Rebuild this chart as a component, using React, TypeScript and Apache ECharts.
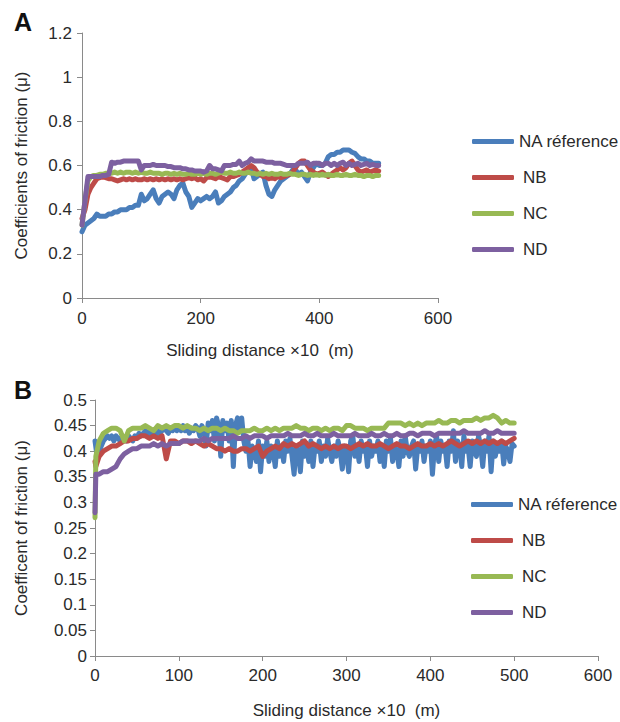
import React, { useEffect, useRef } from "react";
import * as echarts from "echarts";

// ---------- Data ----------
const seriesNames = ["NA réference", "NB", "NC", "ND"];
const seriesColors = ["#4a7ebb", "#be4b48", "#98b954", "#7d60a0"];

// Panel A: sliding distance (x10 m), every 5 units from 0 to 500
const distanceA = Array.from({ length: 101 }, (_, i) => i * 5);

const naA = [
  0.30, 0.33, 0.34, 0.35, 0.36, 0.38, 0.37, 0.37, 0.37, 0.38,
  0.38, 0.39, 0.39, 0.40, 0.40, 0.40, 0.41, 0.41, 0.42, 0.42,
  0.47, 0.44, 0.45, 0.47, 0.49, 0.45, 0.43, 0.46, 0.47, 0.48,
  0.47, 0.45, 0.49, 0.51, 0.52, 0.48, 0.46, 0.41, 0.43, 0.45,
  0.44, 0.45, 0.46, 0.45, 0.46, 0.48, 0.43, 0.44, 0.46, 0.47,
  0.48, 0.50, 0.51, 0.53, 0.54, 0.56, 0.58, 0.59, 0.54, 0.55,
  0.56, 0.57, 0.51, 0.47, 0.46, 0.49, 0.51, 0.53, 0.54, 0.55,
  0.56, 0.58, 0.58, 0.56, 0.57, 0.55, 0.53, 0.57, 0.59, 0.61,
  0.60, 0.60, 0.61, 0.64, 0.65, 0.65, 0.66, 0.66, 0.67, 0.67,
  0.67, 0.66, 0.655, 0.64, 0.63, 0.63, 0.62, 0.62, 0.61, 0.61,
  0.61,
];
const nbA = [
  0.36, 0.40, 0.47, 0.50, 0.52, 0.54, 0.545, 0.55, 0.545, 0.54,
  0.54, 0.535, 0.53, 0.535, 0.54, 0.535, 0.54, 0.535, 0.54, 0.535,
  0.535, 0.54, 0.535, 0.54, 0.535, 0.54, 0.535, 0.54, 0.535, 0.54,
  0.535, 0.54, 0.535, 0.54, 0.535, 0.54, 0.545, 0.54, 0.545, 0.535,
  0.54, 0.53, 0.545, 0.55, 0.545, 0.54, 0.55, 0.545, 0.54, 0.535,
  0.55, 0.55, 0.555, 0.56, 0.57, 0.58, 0.59, 0.60, 0.59, 0.57,
  0.56, 0.55, 0.55, 0.54, 0.545, 0.54, 0.55, 0.545, 0.55, 0.555,
  0.56, 0.57, 0.59, 0.61, 0.62, 0.62, 0.60, 0.58, 0.57, 0.56,
  0.565, 0.57, 0.56, 0.55, 0.56, 0.57, 0.58, 0.59, 0.58, 0.59,
  0.61, 0.62, 0.60, 0.58, 0.57, 0.575, 0.58, 0.57, 0.575, 0.58,
  0.575,
];
const ncA = [
  0.33, 0.44, 0.53, 0.55, 0.555, 0.555, 0.56, 0.56, 0.565, 0.565,
  0.565, 0.57, 0.565, 0.57, 0.565, 0.57, 0.57, 0.565, 0.57, 0.565,
  0.57, 0.565, 0.565, 0.57, 0.565, 0.565, 0.565, 0.56, 0.565, 0.565,
  0.56, 0.565, 0.56, 0.565, 0.56, 0.56, 0.565, 0.56, 0.56, 0.565,
  0.56, 0.565, 0.56, 0.565, 0.565, 0.56, 0.565, 0.57, 0.565, 0.565,
  0.57, 0.565, 0.565, 0.57, 0.565, 0.565, 0.57, 0.565, 0.565, 0.56,
  0.565, 0.56, 0.565, 0.56, 0.565, 0.56, 0.56, 0.565, 0.56, 0.56,
  0.565, 0.56, 0.56, 0.555, 0.56, 0.56, 0.555, 0.56, 0.555, 0.56,
  0.555, 0.56, 0.555, 0.56, 0.555, 0.555, 0.56, 0.555, 0.555, 0.56,
  0.555, 0.555, 0.56, 0.555, 0.555, 0.55, 0.555, 0.555, 0.55, 0.555,
  0.555,
];
const ndA = [
  0.33, 0.44, 0.55, 0.55, 0.55, 0.55, 0.55, 0.555, 0.555, 0.56,
  0.615, 0.61, 0.615, 0.615, 0.62, 0.62, 0.62, 0.62, 0.62, 0.62,
  0.58, 0.60, 0.60, 0.60, 0.605, 0.60, 0.60, 0.60, 0.60, 0.595,
  0.595, 0.59, 0.59, 0.59, 0.585, 0.585, 0.58, 0.58, 0.575, 0.575,
  0.575, 0.57, 0.575, 0.60, 0.585, 0.585, 0.58, 0.575, 0.60, 0.60,
  0.60, 0.605, 0.605, 0.62, 0.60, 0.61, 0.615, 0.63, 0.62, 0.62,
  0.62, 0.62, 0.615, 0.615, 0.615, 0.61, 0.61, 0.61, 0.605, 0.60,
  0.60, 0.60, 0.60, 0.61, 0.61, 0.61, 0.615, 0.60, 0.61, 0.61,
  0.61, 0.60, 0.61, 0.61, 0.60, 0.61, 0.60, 0.61, 0.615, 0.60,
  0.61, 0.60, 0.605, 0.61, 0.60, 0.605, 0.61, 0.60, 0.605, 0.60,
  0.60,
];

// Panel B: sliding distance (x10 m): 0, 1, then every 5 units to 500
const distanceB = [0, 1, ...Array.from({ length: 100 }, (_, i) => (i + 1) * 5)];
// NA réference in panel B is sampled more finely (every 2.5 units) because it is noisy
const distanceNaB = Array.from({ length: 201 }, (_, i) => i * 2.5);

const naB = [
  0.42, 0.39, 0.40, 0.41, 0.42, 0.425, 0.43, 0.425, 0.43, 0.42,
  0.43, 0.425, 0.42, 0.43, 0.425, 0.42, 0.43, 0.425, 0.42, 0.43,
  0.425, 0.435, 0.43, 0.435, 0.44, 0.43, 0.44, 0.435, 0.44, 0.43,
  0.44, 0.435, 0.44, 0.445, 0.44, 0.435, 0.445, 0.44, 0.445, 0.44,
  0.445, 0.44, 0.45, 0.44, 0.445, 0.435, 0.445, 0.44, 0.45, 0.445,
  0.43, 0.45, 0.44, 0.41, 0.455, 0.44, 0.46, 0.42, 0.465, 0.45,
  0.39, 0.46, 0.44, 0.455, 0.42, 0.46, 0.37, 0.45, 0.465, 0.44,
  0.465, 0.42, 0.40, 0.42, 0.37, 0.41, 0.40, 0.38, 0.42, 0.36,
  0.41, 0.39, 0.42, 0.38, 0.41, 0.40, 0.37, 0.42, 0.39, 0.41,
  0.38, 0.42, 0.40, 0.425, 0.39, 0.355, 0.41, 0.40, 0.36, 0.42,
  0.39, 0.41, 0.38, 0.42, 0.37, 0.41, 0.40, 0.42, 0.38, 0.41,
  0.39, 0.425, 0.40, 0.38, 0.41, 0.39, 0.42, 0.40, 0.365, 0.41,
  0.40, 0.36, 0.42, 0.43, 0.39, 0.41, 0.38, 0.42, 0.40, 0.41,
  0.37, 0.42, 0.39, 0.41, 0.40, 0.42, 0.38, 0.41, 0.37, 0.42,
  0.40, 0.425, 0.38, 0.41, 0.40, 0.37, 0.42, 0.39, 0.43, 0.40,
  0.39, 0.41, 0.42, 0.365, 0.41, 0.40, 0.42, 0.38, 0.41, 0.40,
  0.42, 0.355, 0.41, 0.43, 0.38, 0.42, 0.40, 0.41, 0.37, 0.42,
  0.40, 0.44, 0.38, 0.42, 0.41, 0.37, 0.43, 0.40, 0.41, 0.37,
  0.42, 0.40, 0.39, 0.43, 0.41, 0.37, 0.42, 0.40, 0.43, 0.36,
  0.42, 0.39, 0.41, 0.40, 0.42, 0.375, 0.41, 0.40, 0.38, 0.415,
  0.41,
];
const nbB = [
  0.38, 0.37,
  0.39, 0.40, 0.405, 0.41, 0.41, 0.415, 0.42, 0.42, 0.425, 0.425,
  0.43, 0.43, 0.425, 0.43, 0.425, 0.43, 0.385, 0.42, 0.42, 0.415,
  0.42, 0.42, 0.415, 0.42, 0.415, 0.41, 0.415, 0.41, 0.405, 0.405,
  0.40, 0.405, 0.40, 0.40, 0.405, 0.405, 0.40, 0.405, 0.41, 0.39,
  0.40, 0.405, 0.41, 0.405, 0.415, 0.41, 0.415, 0.41, 0.415, 0.42,
  0.41, 0.415, 0.41, 0.405, 0.41, 0.405, 0.41, 0.405, 0.41, 0.41,
  0.405, 0.41, 0.415, 0.41, 0.415, 0.41, 0.41, 0.415, 0.41, 0.405,
  0.41, 0.415, 0.41, 0.41, 0.405, 0.41, 0.415, 0.41, 0.41, 0.415,
  0.41, 0.415, 0.41, 0.415, 0.42, 0.415, 0.41, 0.415, 0.42, 0.415,
  0.42, 0.415, 0.42, 0.415, 0.42, 0.415, 0.42, 0.415, 0.42, 0.425,
];
const ncB = [
  0.27, 0.39,
  0.42, 0.435, 0.44, 0.445, 0.445, 0.44, 0.42, 0.44, 0.445, 0.445,
  0.445, 0.45, 0.445, 0.44, 0.45, 0.445, 0.45, 0.445, 0.45, 0.45,
  0.445, 0.45, 0.445, 0.445, 0.44, 0.445, 0.44, 0.445, 0.445, 0.44,
  0.445, 0.44, 0.44, 0.435, 0.44, 0.44, 0.44, 0.445, 0.44, 0.44,
  0.445, 0.44, 0.445, 0.44, 0.445, 0.445, 0.445, 0.45, 0.445, 0.445,
  0.44, 0.445, 0.445, 0.44, 0.445, 0.44, 0.445, 0.445, 0.44, 0.45,
  0.45, 0.445, 0.445, 0.445, 0.44, 0.445, 0.445, 0.445, 0.445, 0.455,
  0.455, 0.455, 0.455, 0.45, 0.455, 0.45, 0.455, 0.45, 0.455, 0.455,
  0.455, 0.46, 0.455, 0.455, 0.46, 0.46, 0.455, 0.46, 0.46, 0.46,
  0.465, 0.46, 0.465, 0.465, 0.47, 0.465, 0.455, 0.46, 0.455, 0.455,
];
const ndB = [
  0.28, 0.355,
  0.355, 0.36, 0.36, 0.365, 0.37, 0.385, 0.395, 0.40, 0.405, 0.405,
  0.41, 0.41, 0.41, 0.415, 0.41, 0.415, 0.41, 0.415, 0.415, 0.415,
  0.42, 0.42, 0.42, 0.42, 0.42, 0.425, 0.42, 0.425, 0.425, 0.425,
  0.425, 0.425, 0.43, 0.425, 0.425, 0.43, 0.425, 0.43, 0.43, 0.43,
  0.425, 0.43, 0.43, 0.43, 0.43, 0.435, 0.43, 0.43, 0.43, 0.435,
  0.43, 0.43, 0.435, 0.43, 0.43, 0.43, 0.435, 0.43, 0.43, 0.43,
  0.43, 0.435, 0.43, 0.43, 0.43, 0.435, 0.43, 0.43, 0.435, 0.43,
  0.43, 0.435, 0.43, 0.43, 0.435, 0.435, 0.43, 0.435, 0.435, 0.435,
  0.43, 0.435, 0.435, 0.435, 0.435, 0.435, 0.435, 0.44, 0.435, 0.435,
  0.435, 0.435, 0.44, 0.435, 0.435, 0.44, 0.435, 0.435, 0.435, 0.435,
];

const valuesA = [naA, nbA, ncA, ndA];
const xListsA = [distanceA, distanceA, distanceA, distanceA];
const valuesB = [naB, nbB, ncB, ndB];
const xListsB = [distanceNaB, distanceB, distanceB, distanceB];

const xTicksA = { min: 0, max: 600, interval: 200 };
const yTicksA = { min: 0, max: 1.2, interval: 0.2 };
const xTicksB = { min: 0, max: 600, interval: 100 };
const yTicksB = { min: 0, max: 0.5, interval: 0.05 };

const FONT = "Liberation Sans";
const FS = 17;

function zip(xs: number[], ys: number[]) {
  return xs.map((x, i) => [x, ys[i]]);
}

export default function App() {
  const ref = useRef<HTMLDivElement>(null);
  useEffect(() => {
    document.body.style.margin = "0";
    const chart = echarts.init(ref.current!, undefined, { renderer: "svg" });
    const axisLine = { show: true, lineStyle: { color: "#8a8a8a", width: 1 } };
    const axisTick = { show: true, length: 5, lineStyle: { color: "#8a8a8a" } };
    const labelStyle = { color: "#2a2a2a", fontSize: FS, fontFamily: FONT };
    const nameStyle = { color: "#2a2a2a", fontSize: FS, fontFamily: FONT };

    const makeX = (idx: number, ticks: any, gap: number, margin: number) => ({
      type: "value",
      gridIndex: idx,
      ...ticks,
      name: "Sliding distance ×10  (m)",
      nameLocation: "middle",
      nameGap: gap,
      nameTextStyle: nameStyle,
      axisLine,
      axisTick,
      axisLabel: { ...labelStyle, margin },
      splitLine: { show: false },
    });
    const makeY = (idx: number, ticks: any, name: string, gap: number, margin: number) => ({
      type: "value",
      gridIndex: idx,
      ...ticks,
      name,
      nameLocation: "middle",
      nameRotate: 90,
      nameGap: gap,
      nameTextStyle: nameStyle,
      axisLine,
      axisTick,
      axisLabel: { ...labelStyle, margin },
      splitLine: { show: false },
    });

    const legendData = seriesNames.map((n, i) => ({
      name: n,
      textStyle: { padding: i === 0 ? [0, 0, 0, 0] : [0, 0, 0, 4] },
    }));
    const makeLegend = (left: number, top: number) => ({
      orient: "vertical",
      left,
      top,
      itemWidth: 42,
      itemHeight: 5,
      itemGap: 19,
      icon: "roundRect",
      data: legendData,
      textStyle: { color: "#2a2a2a", fontSize: FS, fontFamily: FONT },
      selectedMode: false,
    });

    const series: any[] = [];
    seriesNames.forEach((n, i) => {
      series.push({
        name: n,
        type: "line",
        xAxisIndex: 0,
        yAxisIndex: 0,
        data: zip(xListsA[i], valuesA[i]),
        showSymbol: false,
        symbol: "none",
        lineStyle: { color: seriesColors[i], width: 5, join: "round", cap: "round" },
        itemStyle: { color: seriesColors[i] },
      });
    });
    seriesNames.forEach((n, i) => {
      series.push({
        name: n,
        type: "line",
        xAxisIndex: 1,
        yAxisIndex: 1,
        data: zip(xListsB[i], valuesB[i]),
        showSymbol: false,
        symbol: "none",
        lineStyle: { color: seriesColors[i], width: 5, join: "round", cap: "round" },
        itemStyle: { color: seriesColors[i] },
      });
    });

    chart.setOption({
      animation: false,
      backgroundColor: "#ffffff",
      textStyle: { fontFamily: FONT },
      grid: [
        { left: 82, top: 33, width: 356, height: 265 },
        { left: 95, top: 400, width: 503, height: 256 },
      ],
      xAxis: [makeX(0, xTicksA, 44, 12), makeX(1, xTicksB, 46, 11)],
      yAxis: [
        makeY(0, yTicksA, "Coefficients of friction (μ)", 52, 10),
        makeY(1, yTicksB, "Coefficent of friction (μ)", 65, 8),
      ],
      legend: [makeLegend(467, 128), makeLegend(466, 491)],
      graphic: [
        { type: "text", left: 14, top: 9, style: { text: "A", font: `bold 25px ${FONT}`, fill: "#111" } },
        { type: "text", left: 14, top: 377, style: { text: "B", font: `bold 25px ${FONT}`, fill: "#111" } },
      ],
      series,
    });
    return () => chart.dispose();
  }, []);
  return <div ref={ref} style={{ width: 620, height: 722 }} />;
}
